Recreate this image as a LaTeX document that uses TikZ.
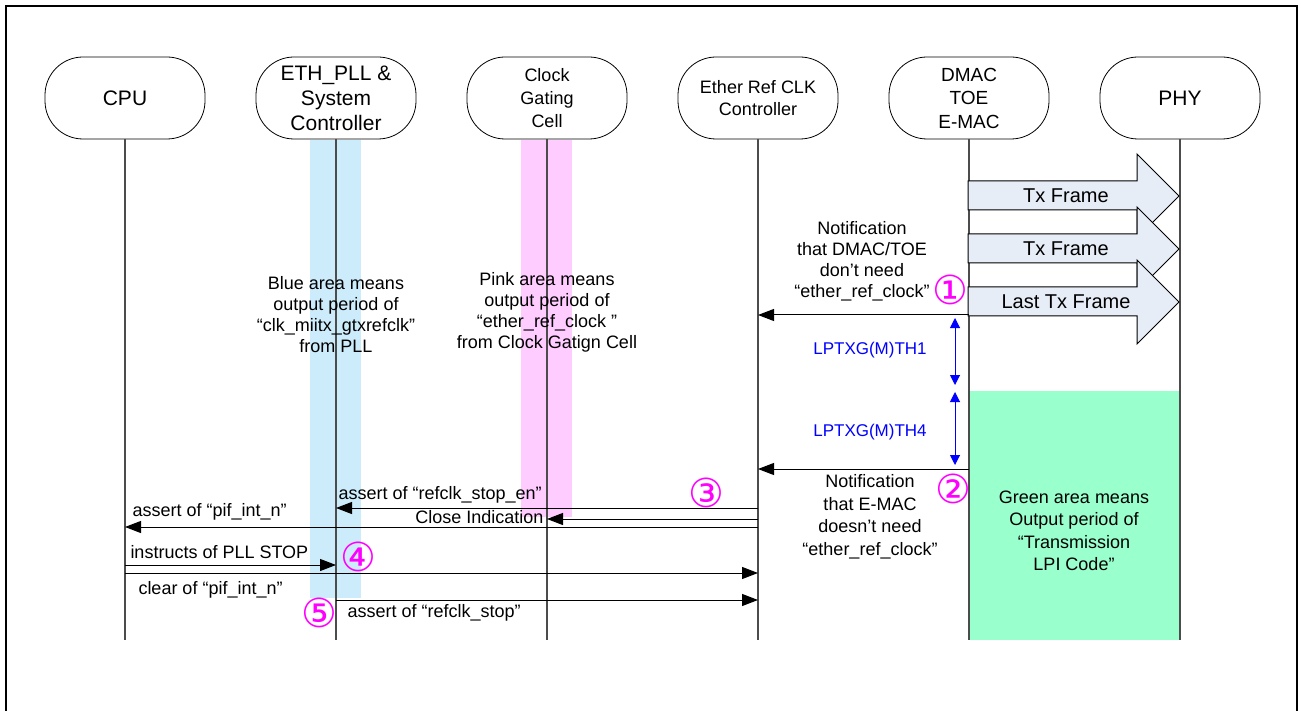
\documentclass[tikz,border=0pt]{standalone}
\usepackage{fontspec}
\setmainfont{Liberation Sans}
\newfontfamily\circfont{DejaVu Sans}
\usetikzlibrary{arrows.meta,positioning}
\definecolor{bandblue}{RGB}{204,236,252}
\definecolor{bandpink}{RGB}{255,204,255}
\definecolor{lpigreen}{RGB}{153,255,204}
\definecolor{txfill}{RGB}{230,237,247}
\definecolor{numpink}{RGB}{255,0,255}

\begin{document}
\begin{tikzpicture}[x=0.5pt, y=-0.5pt,
  hdr/.style={draw, rounded corners=19pt, minimum width=80pt, minimum height=41pt, inner sep=1pt, outer sep=0pt, align=center},
  life/.style={black!70, line width=0.6pt},
  msg/.style={-{Triangle[length=8pt,width=6pt]}, line width=0.5pt},
  dim/.style={{Triangle[length=5pt,width=5pt]}-{Triangle[length=5pt,width=5pt]}, blue, line width=0.5pt},
  txbox/.style={draw, fill=txfill, line width=0.5pt},
  lbl/.style={font=\fontsize{9}{10.5}\selectfont, inner sep=0pt},
  note/.style={font=\fontsize{9}{10.5}\selectfont, align=center, inner sep=1pt},
  num/.style={font=\circfont\fontsize{20}{20}\selectfont, text=numpink, inner sep=0pt}
]
\useasboundingbox (0,0) rectangle (1301,711);
\draw[line width=1pt] (6,711) -- (6,6) -- (1297,6) -- (1297,711);

\node[hdr, font=\fontsize{10.5}{12.5}\selectfont] (cpu) at (125,98) {CPU};
\node[hdr, right=25.5pt of cpu, font=\fontsize{10.5}{12.5}\selectfont] (pll) {ETH\_PLL \&\\System\\Controller};
\node[hdr, right=25.5pt of pll, font=\fontsize{9}{11.5}\selectfont] (cgc) {Clock\\Gating\\Cell};
\node[hdr, right=25.5pt of cgc, font=\fontsize{9}{11}\selectfont] (eref) {Ether Ref CLK\\Controller};
\node[hdr, right=25.5pt of eref, font=\fontsize{9.5}{11.75}\selectfont] (dmac) {DMAC\\TOE\\E-MAC};
\node[hdr, right=25.5pt of dmac, font=\fontsize{10.5}{12.5}\selectfont] (phy) {PHY};

\fill[bandblue] (310,140) rectangle (361,598);
\fill[bandpink] (521,140) rectangle (572,517);
\fill[lpigreen] (968,391) rectangle (1180,640);

\foreach \n in {cpu,pll,cgc,eref,dmac,phy}
  \draw[life] (\n.south) -- (\n |- 0,640);

\foreach \c/\t [count=\i] in {196/Tx Frame, 249/Tx Frame, 302/Last Tx Frame}{
  \draw[txbox] (968,\c-15) -- (1137,\c-15) -- (1137,\c-42) -- (1179,\c)
    -- (1137,\c+42) -- (1137,\c+14) -- (968,\c+14) -- cycle;
  \node[font=\fontsize{10}{12}\selectfont] (tx\i) at (1066,\c) {\t};
}

\node[note] (bnote) at (336,315) {Blue area means\\output period of\\“clk\_miitx\_gtxrefclk”\\from PLL};
\node[note] (pnote) at (547,312) {Pink area means\\output period of\\“ether\_ref\_clock ”\\from Clock Gatign Cell};
\node[note, font=\fontsize{9}{11.25}\selectfont] (gnote) at (1074,531) {Green area means\\Output period of\\“Transmission\\LPI Code”};

\draw[msg] (dmac |- 0,315) -- (eref |- 0,315);
\node[note] (n1) at (862,261) {Notification\\that DMAC/TOE\\don’t need\\“ether\_ref\_clock”};
\node[num] (c1) at (950,290) {①};

\draw[dim] (955,318) -- (955,385);
\draw[dim] (955,392) -- (955,465);
\node[font=\fontsize{8.5}{10}\selectfont, text=blue] (th1) at (870,350) {LPTXG(M)TH1};
\node[font=\fontsize{8.5}{10}\selectfont, text=blue] (th4) at (870,432) {LPTXG(M)TH4};

\draw[msg] (dmac |- 0,469) -- (eref |- 0,469);
\node[note, font=\fontsize{9}{11.25}\selectfont] (n2) at (870,517) {Notification\\that E-MAC\\doesn’t need\\“ether\_ref\_clock”};
\node[num] (c2) at (953,489) {②};

\draw[msg] (eref |- 0,508) -- (pll |- 0,508)
  node[lbl, pos=1, anchor=base west, xshift=1pt, yshift=4.5pt] {assert of “refclk\_stop\_en”};
\node[num] (c3) at (706,493) {③};
\draw[msg] (eref |- 0,519) -- (cgc |- 0,519)
  node[lbl, pos=1, anchor=east, xshift=-1.5pt, yshift=1pt] {Close Indication};
\draw[msg] (eref |- 0,527) -- (cpu |- 0,527)
  node[lbl, pos=1, anchor=base west, xshift=3.5pt, yshift=5.5pt] {assert of “pif\_int\_n”};
\draw[msg] (cpu |- 0,565) -- (pll |- 0,565)
  node[lbl, pos=0, anchor=base west, xshift=2.5pt, yshift=3.5pt] {instructs of PLL STOP};
\node[num] (c4) at (358,557) {④};
\draw[msg] (cpu |- 0,573) -- (eref |- 0,573)
  node[lbl, pos=0, anchor=base west, xshift=6.5pt, yshift=-10.5pt] {clear of “pif\_int\_n”};
\draw[msg] (pll |- 0,600) -- (eref |- 0,600)
  node[lbl, pos=0, anchor=base west, xshift=5.5pt, yshift=-8.5pt] {assert of “refclk\_stop”};
\node[num] (c5) at (319,613) {⑤};
\end{tikzpicture}
\end{document}
